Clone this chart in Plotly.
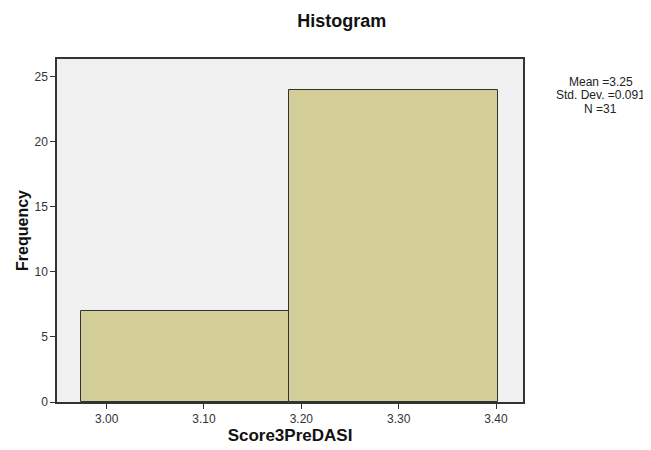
import plotly.graph_objects as go

bin_edges = [2.9733, 3.1878, 3.4022]
counts = [7, 24]
x_ticks = [3.00, 3.10, 3.20, 3.30, 3.40]
x_tick_labels = ["3.00", "3.10", "3.20", "3.30", "3.40"]
y_ticks = [0, 5, 10, 15, 20, 25]
stats_lines = ["Mean =3.25", "Std. Dev. =0.091", "N =31"]

centers = [(bin_edges[i] + bin_edges[i + 1]) / 2 for i in range(len(counts))]
widths = [bin_edges[i + 1] - bin_edges[i] for i in range(len(counts))]

fig = go.Figure(go.Bar(
    x=centers, y=counts, width=widths,
    marker=dict(color="#D3CE98", line=dict(color="#333333", width=1)),
    hoverinfo="skip",
))

# page has an 8px body margin; figure sized so the plot lands where the reference has it
fig.update_layout(
    width=643, height=442,
    margin=dict(l=49, r=128, t=51, b=48, autoexpand=False),
    paper_bgcolor="white", plot_bgcolor="#F0F0F0",
    font=dict(family="Arial, Liberation Sans", size=12, color="#333333"),
    showlegend=False,
    title=dict(text="<b>Histogram</b>", x=0.519, xanchor="center", y=0.971, yanchor="middle",
               font=dict(size=18, color="#111111"), automargin=False),
    bargap=0,
)
fig.update_xaxes(
    range=[2.949, 3.4277], tickvals=x_ticks, ticktext=x_tick_labels, automargin=False,
    ticks="outside", ticklen=5, tickcolor="#333333", showgrid=False, zeroline=False,
    showline=True, linecolor="#333333", linewidth=1.5, mirror=True,
    title=dict(text="<b>Score3PreDASI</b>", font=dict(size=17, color="#111111"), standoff=4),
)
fig.update_yaxes(
    range=[0, 26.36], tickvals=y_ticks, automargin=False,
    ticks="outside", ticklen=5, tickcolor="#333333", showgrid=False, zeroline=False,
    showline=True, linecolor="#333333", linewidth=1.5, mirror=True,
    title=dict(text="<b>Frequency</b>", font=dict(size=16, color="#111111"), standoff=2),
)
stat_y = [0.9329, 0.8936, 0.8542]
for line, yy in zip(stats_lines, stat_y):
    fig.add_annotation(
        text=line, xref="paper", yref="paper", x=1.167, y=yy,
        xanchor="center", yanchor="middle", showarrow=False, align="center",
        font=dict(size=12, color="#222222"), borderpad=0,
    )
fig.write_html("out.html")
